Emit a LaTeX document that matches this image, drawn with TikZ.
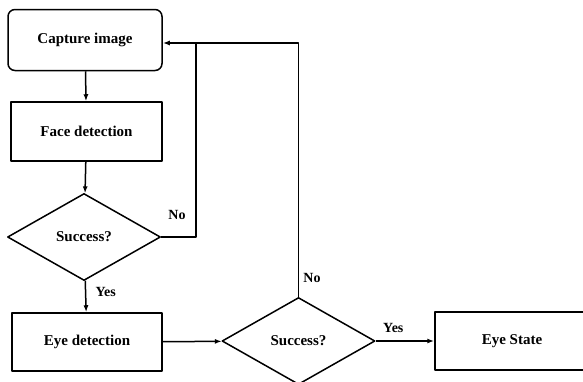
\documentclass[tikz,border=0pt]{standalone}
\usepackage{fontspec}
\setmainfont{Liberation Serif}
\usetikzlibrary{shapes.geometric,arrows.meta}
\tikzset{
  proc/.style={draw, line width=1.5pt, minimum width=151pt, minimum height=59pt, inner sep=0pt},
  decide/.style={draw, diamond, line width=1.5pt, aspect=1.75, minimum width=153pt, minimum height=87pt, inner sep=0pt},
  lbl/.style={font=\fontsize{14}{16}\selectfont\bfseries}
}
\begin{document}
\begin{tikzpicture}[x=1pt,y=-1pt,>={Latex[length=7pt,width=5pt]}, line width=1.5pt, font=\fontsize{15}{17}\selectfont\bfseries, line join=round]
\useasboundingbox (0,0) rectangle (583,381);
\begin{scope}
\clip (0,0) rectangle (583,381);
\node[proc, rounded corners=7pt, minimum width=154pt, minimum height=61pt] (cap) at (85,40) {Capture image};
\node[proc] (face) at (86.5,131.5) {Face detection};
\node[decide] (s1) at (84,237) {Success?};
\node[proc, minimum width=150pt, minimum height=58pt] (eye) at (87,342) {Eye detection};
\node[decide] (s2) at (298.5,341) {Success?};
\node[proc, minimum width=154pt, minimum height=58pt] (state) at (512,341) {Eye State};
\coordinate (back) at (196,43);
\end{scope}
\draw[->] (cap) -- (face);
\draw[->] (face) -- (s1);
\draw[->] (s1) -- node[lbl, right=6pt, pos=.35]{Yes} (eye);
\draw[->] (eye) -- (s2);
\draw[->] (s2) -- node[lbl, above=4pt, pos=.3]{Yes} (state);
\draw[->] (s1.east) -| (back) -- (cap.east |- back);
\draw (s2.north) |- (back);
\node[lbl] (no1) at (177,215) {No};
\node[lbl] (no2) at (312,278) {No};
\end{tikzpicture}
\end{document}
